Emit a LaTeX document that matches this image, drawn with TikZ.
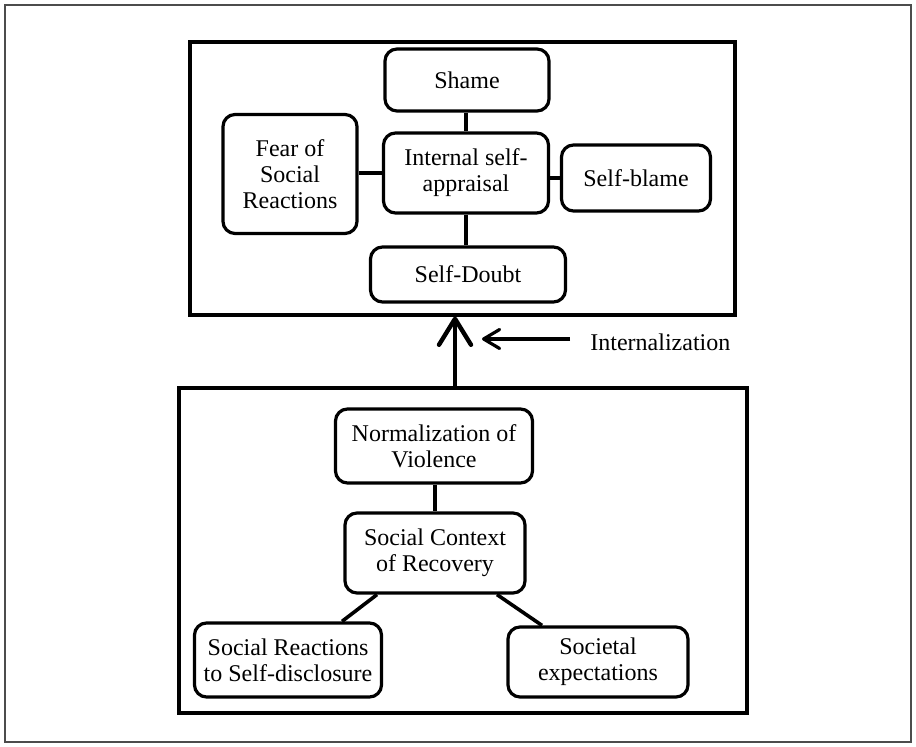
\documentclass[tikz,border=0pt]{standalone}
\usepackage{fontspec}
\setmainfont{Liberation Serif}
\usetikzlibrary{arrows.meta}

\begin{document}
\begin{tikzpicture}[x=0.5pt, y=-0.5pt,
    font=\fontsize{12}{13}\selectfont,
    box/.style={draw, line width=1.6pt, rounded corners=6pt, align=center, inner sep=1pt},
    frame/.style={draw, line width=1.6pt, inner sep=0pt},
    link/.style={line width=1.8pt},
    bigarrow/.style={line width=2.2pt, -{Straight Barb[round, length=13pt, width=16pt]}},
    smallarrow/.style={line width=1.6pt, -{Straight Barb[round, length=8pt, width=9.5pt]}}]
        \useasboundingbox (0,0) rectangle (916,747);
        \draw [gray!60!black, line width=0.6pt] (5,5) rectangle (911,742);

        % upper panel
        \node[frame, minimum width=272.5pt, minimum height=136.5pt] (upper) at (462.5,178.5) {};
        \node[box, minimum width=82pt, minimum height=31pt] (shame) at (467,80) {Shame};
        \node[box, minimum width=82.5pt, minimum height=40pt] (appraisal) at (466,173) {Internal self-\\appraisal};
        \node[box, minimum width=67pt, minimum height=59.5pt] (fear) at (290,174) {Fear of\\Social\\Reactions};
        \node[box, minimum width=74.5pt, minimum height=33pt] (blame) at (636,178) {Self-blame};
        \node[box, minimum width=97.5pt, minimum height=27.5pt] (doubt) at (468,274.5) {Self-Doubt};
        \draw[link] (shame.south -| appraisal) -- (appraisal.north);
        \draw[link] (fear.east |- appraisal) -- (appraisal.west);
        \draw[link] (blame.west) -- (blame.west -| appraisal.east);
        \draw[link] (appraisal.south) -- (appraisal.south |- doubt.north);

        % lower panel
        \node[frame, minimum width=284pt, minimum height=162.5pt] (lower) at (463,550.5) {};
        \node[box, minimum width=98.5pt, minimum height=37pt] (norm) at (434,446) {Normalization of\\Violence};
        \node[box, minimum width=90pt, minimum height=40pt] (context) at (435,553) {Social Context\\of Recovery};
        \node[box, minimum width=93.5pt, minimum height=37pt] (reactions) at (288,660) {Social Reactions\\to Self-disclosure};
        \node[box, minimum width=90pt, minimum height=35pt] (societal) at (598,662) {Societal\\expectations};
        \draw[link] (norm.south -| context) -- (context.north);
        \draw[link] ([xshift=-29pt]context.south) -- ([xshift=27pt]reactions.north);
        \draw[link] ([xshift=31pt]context.south) -- ([xshift=-28pt]societal.north);

        % internalization
        \coordinate (foot) at (455,388);
        \draw[bigarrow] (foot |- lower.north) -- (foot |- upper.south);
        \node[anchor=west, inner sep=0pt] (intl) at (590,342) {Internalization};
        \coordinate (intltip) at (482,339);
        \draw[smallarrow] ([xshift=-10pt, yshift=1.5pt]intl.west) -- (intltip);
\end{tikzpicture}
\end{document}
